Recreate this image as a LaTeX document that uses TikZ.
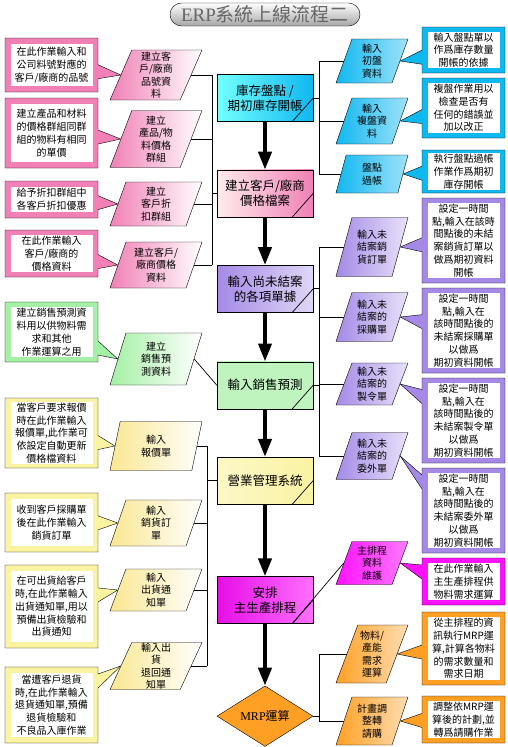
\documentclass[tikz,border=0pt]{standalone}
\usepackage{fontspec}
\setmainfont{Noto Sans CJK TC}
\newfontfamily\latinserif{Liberation Serif}
\usetikzlibrary{positioning,shapes.geometric,shapes.callouts,arrows.meta}

\definecolor{notepink}{HTML}{F080B5}
\definecolor{notegreen}{HTML}{A4F0A4}
\definecolor{noteyellow}{HTML}{FAF3A2}
\definecolor{notecyan}{HTML}{10B8F0}
\definecolor{notepurple}{HTML}{A48AE6}
\definecolor{notemagenta}{HTML}{FF10FF}
\definecolor{noteorange}{HTML}{FFA024}

\tikzset{
  mainbox/.style={draw, rectangle, minimum width=96pt, minimum height=47pt,
    inner sep=0pt, align=center, font=\fontsize{12.5}{15}\selectfont},
  para/.style={draw, trapezium, trapezium left angle=65, trapezium right angle=115,
    trapezium stretches body, inner sep=0pt, align=center,
    font=\fontsize{10}{12.5}\selectfont},
  lpara/.style={para, minimum width=92pt, minimum height=#1},
  rpara/.style={para, minimum width=72pt, minimum height=#1},
  note/.style={rectangle callout, draw, callout pointer width=14pt, inner sep=0pt},
  notetext/.style={fill=white, inner sep=1pt, align=center,
    font=\fontsize{10}{12.8}\selectfont},
  link/.style={line width=0.7pt},
  flow/.style={line width=4pt, -{Triangle[width=13pt,length=18pt]}},
  % fills
  cyanfill/.style={left color=cyan!55!white, right color=notecyan},
  pinkfill/.style={left color=pink!30!white, right color=notepink},
  purplefill/.style={left color=notepurple, right color=notepurple!35!white},
  greenfill/.style={left color=notegreen!70!white, middle color=white, right color=notegreen!70!white},
  yellowfill/.style={left color=noteyellow!60!white, middle color=white, right color=noteyellow},
  magentafill/.style={left color=notemagenta!90!black, middle color=notemagenta!10!white, right color=notemagenta!60!white},
  orangefill/.style={left color=noteorange, middle color=noteorange!25!white, right color=noteorange},
  pinkpara/.style={left color=notepink, right color=white},
  cyanpara/.style={left color=notecyan, right color=notecyan!40!white},
  purplepara/.style={left color=notepurple, right color=notepurple!25!white},
  greenpara/.style={left color=notegreen, right color=white},
  yellowpara/.style={left color=noteyellow!90!orange, right color=white},
  magentapara/.style={left color=notemagenta, right color=notemagenta!55!white},
  orangepara/.style={left color=noteorange, right color=noteorange!35!white},
  title/.style={draw, rounded corners=11.5pt, minimum width=190pt, minimum height=23pt,
    inner sep=0pt, top color=white, bottom color=black!35, text=black!60,
    font=\fontsize{19}{19}\selectfont},
}

% callout box with a white text area
\newcommand{\tipbox}[7]{%
  \node[note, fill=#5, minimum width=#3, minimum height=#4,
    callout absolute pointer={#6}] (#1) at (#2) {};
  \node[notetext, minimum width=#3-11pt, minimum height=#4-12pt] (#1-txt) at (#1.center) {#7};
}

\begin{document}
\begin{tikzpicture}[x=1pt, y=-1pt]
  \useasboundingbox (0,0) rectangle (507,747);

  \node[title] (title) at (265,14.5) {{\latinserif ERP}系統上線流程二};

  % main flow
  \node[mainbox, cyanfill] (stock) at (265,98) {庫存盤點 /\\期初庫存開帳};
  \node[mainbox, pinkfill, below=48pt of stock] (pricefile) {建立客戶/廠商\\價格檔案};
  \node[mainbox, purplefill, below=48pt of pricefile] (openorders) {輸入尚未結案\\的各項單據};
  \node[mainbox, greenfill, below=49pt of openorders] (forecast) {輸入銷售預測};
  \node[mainbox, yellowfill, below=48pt of forecast] (salesmgmt) {營業管理系統};
  \node[mainbox, magentafill, below=72pt of salesmgmt] (mps) {安排\\主生產排程};
  \node[draw, diamond, orangefill, minimum width=96pt, minimum height=60pt, inner sep=0pt,
    font=\fontsize{12}{15}\selectfont, below=62pt of mps] (mrp) {{\latinserif MRP}運算};

  \draw[flow] (stock) -- (pricefile);
  \draw[flow] (pricefile) -- (openorders);
  \draw[flow] (openorders) -- (forecast);
  \draw[flow] (forecast) -- (salesmgmt);
  \draw[flow] (salesmgmt) -- (mps);
  \draw[flow] (mps) -- (mrp);

  % left side steps
  \node[lpara=50pt, pinkpara] (p1) at (156,75) {建立客\\戶/廠商\\品號資\\料};
  \node[lpara=57pt, pinkpara] (p2) at (156,139) {建立\\產品/物\\料價格\\群組};
  \node[lpara=44pt, pinkpara] (p3) at (156,204) {建立\\客戶折\\扣群組};
  \node[lpara=46pt, pinkpara] (p4) at (156,265) {建立客戶/\\廠商價格\\資料};
  \node[lpara=52pt, greenpara] (p5) at (156,359) {建立\\銷售預\\測資料};
  \node[lpara=49pt, yellowpara] (p6) at (156,446) {輸入\\報價單};
  \node[lpara=46pt, yellowpara] (p7) at (156,523) {輸入\\銷貨訂\\單};
  \node[lpara=42pt, yellowpara] (p8) at (156,590) {輸入\\出貨通\\知單};
  \node[lpara=47pt, yellowpara] (p9) at (156,666) {輸入出\\貨\\退回通\\知單};

  % right side steps
  \node[rpara=44pt, cyanpara] (r1) at (372,61) {輸入\\初盤\\資料};
  \node[rpara=46pt, cyanpara] (r2) at (372,121) {輸入\\複盤資\\料};
  \node[rpara=38pt, cyanpara] (r3) at (372,174) {盤點\\過帳};
  \node[rpara=59pt, purplepara] (r4) at (372,247) {輸入未\\結案銷\\貨訂單};
  \node[rpara=49pt, purplepara] (r5) at (372,317) {輸入未\\結案的\\採購單};
  \node[rpara=42pt, purplepara] (r6) at (372,384) {輸入未\\結案的\\製令單};
  \node[rpara=47pt, purplepara] (r7) at (372,456) {輸入未\\結案的\\委外單};
  \node[rpara=43pt, magentapara] (r8) at (372,563) {主排程\\資料\\維護};
  \node[rpara=58pt, orangepara] (r9) at (372,654) {物料/\\產能\\需求\\運算};
  \node[rpara=48pt, orangepara] (r10) at (372,721) {計畫調\\整轉\\請購};

  % connectors
  \coordinate (pinkbus) at (212,0);
  \coordinate (yellowbus) at (207,0);
  \coordinate (rightbus) at (319,0);
  \foreach \p in {p1,p2,p3,p4}
    \draw[link] (\p.right side) -- (\p.right side -| pinkbus);
  \draw[link] (p1.right side -| pinkbus) -- (p4.right side -| pinkbus);
  \draw[link] (pinkbus |- pricefile.west) -- (pricefile.west);
  \draw[link] (p5.right side) -- (forecast.west);
  \foreach \p in {p6,p7,p8,p9}
    \draw[link] (\p.right side) -- (\p.right side -| yellowbus);
  \draw[link] (p6.right side -| yellowbus) -- (p9.right side -| yellowbus);
  \draw[link] (yellowbus |- salesmgmt.west) -- (salesmgmt.west);

  \foreach \r in {r1,r2,r3,r4,r5,r6,r7,r9,r10}
    \draw[link] (\r.left side) -- (\r.left side -| rightbus);
  \draw[link] (r1.left side -| rightbus) -- (r3.left side -| rightbus);
  \draw[link] (r4.left side -| rightbus) -- (r7.left side -| rightbus);
  \draw[link] (r9.left side -| rightbus) -- (r10.left side -| rightbus);
  \foreach \b in {stock,openorders,forecast,mrp}
    \draw[link] (\b.east) -- (\b.east -| rightbus);
  \draw[link] (r8.left side) -- ([xshift=-21pt]mps.south east);
  \foreach \b in {stock,pricefile,openorders,forecast,salesmgmt,mps}
    \draw[link] (\b.east) -- ([xshift=-21pt]\b.south east);

  % left notes
  \tipbox{n1}{51.5,65}{93pt}{54pt}{notepink}{(p1.left side)}{在此作業輸入和\\公司料號對應的\\客戶/廠商的品號}
  \tipbox{n2}{51.5,133}{93pt}{70pt}{notepink}{(p2.left side)}{建立產品和材料\\的價格群組同群\\組的物料有相同\\的單價}
  \tipbox{n3}{51.5,199.5}{93pt}{37pt}{notepink}{(p3.left side)}{給予折扣群組中\\各客戶折扣優惠}
  \tipbox{n4}{51.5,253.5}{93pt}{47pt}{notepink}{(p4.left side)}{在此作業輸入\\客戶/廠商的\\價格資料}
  \tipbox{n5}{51.5,332}{93pt}{60pt}{notegreen}{(p5.left side)}{建立銷售預測資\\料用以供物料需\\求和其他\\作業運算之用}
  \tipbox{n6}{51.5,433}{93pt}{70pt}{noteyellow}{(p6.left side)}{當客戶要求報價\\時在此作業輸入\\報價單,此作業可\\依設定自動更新\\價格檔資料}
  \tipbox{n7}{51.5,522.5}{93pt}{59pt}{noteyellow}{(p7.left side)}{收到客戶採購單\\後在此作業輸入\\銷貨訂單}
  \tipbox{n8}{51.5,606.5}{93pt}{83pt}{noteyellow}{(p8.left side)}{在可出貨給客戶\\時,在此作業輸入\\出貨通知單,用以\\預備出貨檢驗和\\出貨通知}
  \tipbox{n9}{51.5,705}{93pt}{76pt}{noteyellow}{(p9.left side)}{當遭客戶退貨\\時,在此作業輸入\\退貨通知單,預備\\退貨檢驗和\\不良品入庫作業}

  % right notes
  \tipbox{m1}{463.5,50}{83pt}{46pt}{notecyan}{(r1.right side)}{輸入盤點單以\\作爲庫存數量\\開帳的依據}
  \tipbox{m2}{463.5,108}{83pt}{60pt}{notecyan}{(r2.right side)}{複盤作業用以\\檢查是否有\\任何的錯誤並\\加以改正}
  \tipbox{m3}{463.5,171.5}{83pt}{43pt}{notecyan}{(r3.right side)}{執行盤點過帳\\作業作爲期初\\庫存開帳}
  \tipbox{m4}{463.5,240.5}{83pt}{85pt}{notepurple}{(r4.right side)}{設定一時間\\點,輸入在該時\\間點後的未結\\案銷貨訂單以\\做爲期初資料\\開帳}
  \tipbox{m5}{463.5,330.5}{83pt}{85pt}{notepurple}{(r5.right side)}{設定一時間\\點,輸入在\\該時間點後的\\未結案採購單\\以做爲\\期初資料開帳}
  \tipbox{m6}{463.5,420.5}{83pt}{85pt}{notepurple}{(r6.right side)}{設定一時間\\點,輸入在\\該時間點後的\\未結案製令單\\以做爲\\期初資料開帳}
  \tipbox{m7}{463.5,510.5}{83pt}{85pt}{notepurple}{(r7.right side)}{設定一時間\\點,輸入在\\該時間點後的\\未結案委外單\\以做爲\\期初資料開帳}
  \tipbox{m8}{463.5,581.5}{83pt}{47pt}{notemagenta}{(r8.right side)}{在此作業輸入\\主生產排程供\\物料需求運算}
  \tipbox{m9}{463.5,648.5}{83pt}{73pt}{noteorange}{(r9.right side)}{從主排程的資\\訊執行MRP運\\算,計算各物料\\的需求數量和\\需求日期}
  \tipbox{m10}{463.5,719.5}{83pt}{47pt}{noteorange}{(r10.right side)}{調整依MRP運\\算後的計劃,並\\轉爲請購作業}
\end{tikzpicture}
\end{document}
